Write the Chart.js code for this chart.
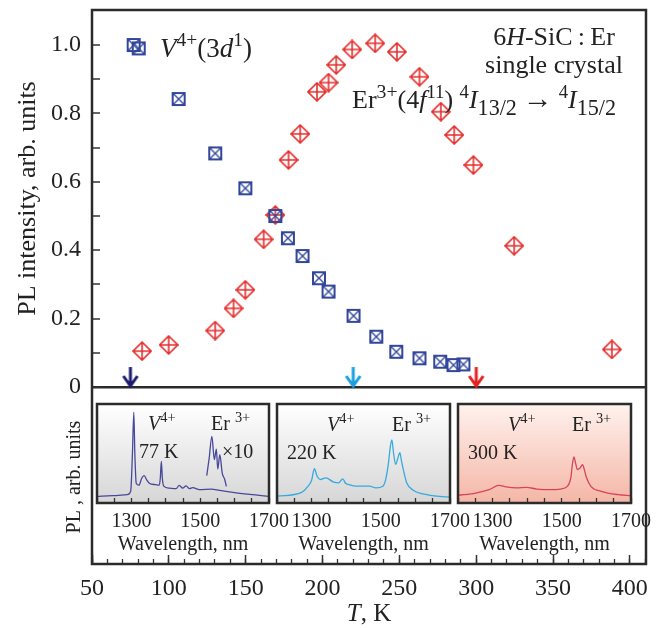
<!DOCTYPE html>
<html>
<head>
<meta charset="utf-8">
<script src="https://cdn.jsdelivr.net/npm/chart.js@4.4.1/dist/chart.umd.min.js"></script>
<style>
  html, body { margin: 0; padding: 0; background: #fff; }
  #wrap { position: relative; width: 657px; height: 628px; }
  #wrap canvas { position: absolute; }
</style>
</head>
<body>
<div id="wrap">
  <canvas id="main" width="657" height="628" style="left:0;top:0"></canvas>
  <canvas id="ins77" width="220" height="162" style="left:73px;top:402px"></canvas>
  <canvas id="ins220" width="221" height="162" style="left:253px;top:402px"></canvas>
  <canvas id="ins300" width="221" height="162" style="left:434px;top:402px"></canvas>
</div>
<script>
// V4+ points (temperature, K / normalized PL)
const tempV = [77.1, 80.4, 106.4, 130.2, 149.8, 169.3, 177.5, 187.0, 197.7, 203.9, 220.2, 235.0, 248.0, 263.1, 276.6, 285.2, 291.7];
const plV = [1.0, 0.99, 0.842, 0.683, 0.581, 0.500, 0.435, 0.383, 0.318, 0.279, 0.208, 0.147, 0.103, 0.084, 0.074, 0.064, 0.066];

// Er3+ points
const tempEr = [82.6, 99.9, 130.2, 142.1, 149.8, 161.7, 169.3, 177.9, 185.5, 196.4, 203.9, 208.9, 219.3, 234.3, 248.4, 263.1, 277.0, 285.7, 298.2, 324.7, 388.3];
const plEr = [0.105, 0.123, 0.165, 0.230, 0.284, 0.432, 0.503, 0.664, 0.740, 0.863, 0.890, 0.942, 0.987, 1.005, 0.980, 0.907, 0.805, 0.737, 0.649, 0.413, 0.110];

// temperatures of the three spectra (arrows)
const arrowTemps = [75, 220, 300];

// inset spectra, wavelength nm / relative height
const wl77 = [1200, 1244, 1288, 1298, 1303, 1307, 1310, 1314, 1322, 1330, 1337, 1345, 1352, 1371, 1381, 1384, 1387, 1390, 1394, 1410, 1430, 1439, 1449, 1459, 1469, 1478, 1498, 1532, 1556, 1595, 1654, 1700];
const pl77 = [0.067, 0.074, 0.084, 0.12, 0.50, 0.916, 0.50, 0.20, 0.18, 0.25, 0.276, 0.23, 0.20, 0.185, 0.18, 0.25, 0.42, 0.25, 0.17, 0.15, 0.145, 0.178, 0.15, 0.172, 0.145, 0.155, 0.135, 0.14, 0.128, 0.108, 0.084, 0.067];
const wl77Er = [1519, 1526, 1534, 1541, 1547, 1551, 1557, 1564, 1571, 1576];
const pl77Er = [0.276, 0.45, 0.673, 0.438, 0.545, 0.343, 0.488, 0.303, 0.24, 0.168];

const wl220 = [1200, 1271, 1290, 1300, 1308, 1316, 1325, 1341, 1364, 1378, 1390, 1398, 1408, 1428, 1467, 1486, 1506, 1514, 1522, 1528, 1532, 1537, 1543, 1549, 1555, 1560, 1565, 1575, 1594, 1633, 1692, 1700];
const pl220 = [0.068, 0.108, 0.17, 0.23, 0.346, 0.27, 0.237, 0.254, 0.21, 0.203, 0.244, 0.20, 0.186, 0.17, 0.17, 0.153, 0.17, 0.237, 0.40, 0.58, 0.637, 0.50, 0.39, 0.45, 0.508, 0.42, 0.339, 0.203, 0.129, 0.085, 0.061, 0.06];

const wl300 = [1200, 1251, 1290, 1318, 1339, 1369, 1398, 1428, 1467, 1496, 1516, 1526, 1531, 1535, 1540, 1545, 1552, 1560, 1565, 1570, 1584, 1614, 1663, 1700];
const pl300 = [0.077, 0.10, 0.135, 0.178, 0.162, 0.152, 0.158, 0.141, 0.135, 0.141, 0.168, 0.253, 0.40, 0.465, 0.40, 0.337, 0.35, 0.387, 0.34, 0.27, 0.168, 0.118, 0.084, 0.074];

const insetLabeled = [1300, 1500, 1700];

const SERIF = '"Liberation Serif", "DejaVu Serif", serif';
const INK = '#222';

// draws text made of runs: {t, i (italic), sup, sub, s (size factor)}
const rich = (ctx, parts, x, y, size, align) => {
  const runs = parts.map(p => {
    const f = p.s || ((p.sup || p.sub) ? 0.72 : 1);
    const font = (p.i ? 'italic ' : '') + (size * f) + 'px ' + SERIF;
    ctx.font = font;
    return { t: p.t, font, w: ctx.measureText(p.t).width, dy: p.sup ? -size * 0.4 : (p.sub ? size * 0.25 : 0) };
  });
  const total = runs.reduce((a, r) => a + r.w, 0);
  let cx = align === 'center' ? x - total / 2 : x;
  ctx.textAlign = 'left';
  ctx.textBaseline = 'alphabetic';
  runs.forEach(r => {
    ctx.font = r.font;
    ctx.fillText(r.t, cx, y + r.dy);
    cx += r.w;
  });
};

// marker images
const squareMark = (() => {
  const c = document.createElement('canvas');
  c.width = 16; c.height = 16;
  const g = c.getContext('2d');
  g.strokeStyle = '#33479a';
  g.lineWidth = 2;
  g.strokeRect(2, 2, 12, 12);
  g.lineWidth = 1.4;
  g.beginPath();
  g.moveTo(3, 3); g.lineTo(13, 13);
  g.moveTo(13, 3); g.lineTo(3, 13);
  g.stroke();
  return c;
})();

const diamondMark = (() => {
  const c = document.createElement('canvas');
  c.width = 20; c.height = 20;
  const g = c.getContext('2d');
  g.strokeStyle = '#e4302f';
  g.lineWidth = 1.6;
  g.beginPath();
  g.moveTo(10, 1); g.lineTo(19, 10); g.lineTo(10, 19); g.lineTo(1, 10); g.closePath();
  g.moveTo(10, 1); g.lineTo(10, 19);
  g.moveTo(1, 10); g.lineTo(19, 10);
  g.stroke();
  return c;
})();

const makeArrow = color => {
  const c = document.createElement('canvas');
  c.width = 18; c.height = 44;
  const g = c.getContext('2d');
  g.strokeStyle = color;
  g.lineWidth = 3;
  g.beginPath();
  g.moveTo(9, 2); g.lineTo(9, 21);
  g.moveTo(2, 11); g.lineTo(9, 21); g.lineTo(16, 11);
  g.stroke();
  return c;
};
const arrowMarks = ['#1e1b6d', '#1a9fe0', '#e52020'].map(makeArrow);

const noPad = s => { s.paddingTop = 0; s.paddingBottom = 0; s.paddingLeft = 0; s.paddingRight = 0; };

const mainNotes = {
  id: 'mainNotes',
  afterDraw(chart) {
    const { ctx, chartArea: a, scales } = chart;
    ctx.save();
    ctx.strokeStyle = '#2b2b2b';
    ctx.lineWidth = 2.5;
    ctx.strokeRect(a.left, a.top, a.right - a.left, a.bottom - a.top);
    ctx.fillStyle = INK;

    rich(ctx, [{ t: 'V', i: 1 }, { t: '4+', sup: 1 }, { t: '(3' }, { t: 'd', i: 1 }, { t: '1', sup: 1 }, { t: ')' }], a.left + 68, a.top + 47, 27);
    rich(ctx, [{ t: '6' }, { t: 'H', i: 1 }, { t: '-SiC\u2009:\u2009Er' }], a.left + 462, a.top + 35, 26, 'center');
    rich(ctx, [{ t: 'single crystal' }], a.left + 462, a.top + 63, 26, 'center');
    rich(ctx, [{ t: 'Er' }, { t: '3+', sup: 1, s: 0.76 }, { t: '(4' }, { t: 'f', i: 1 }, { t: '11', sup: 1 }, { t: ') ' },
      { t: '4', sup: 1 }, { t: 'I', i: 1 }, { t: '13/2', sub: 1, s: 0.85 }, { t: '\u2009\u2192\u2009', s: 1.15 },
      { t: '4', sup: 1 }, { t: 'I', i: 1 }, { t: '15/2', sub: 1, s: 0.85 }], a.left + 260, a.top + 98, 26);

    rich(ctx, [{ t: 'T', i: 1 }, { t: ', K' }], (a.left + a.right) / 2, 621, 25, 'center');

    // rotated axis titles
    const y0 = scales.y.getPixelForValue(0);
    ctx.save();
    ctx.translate(28, (a.top + y0) / 2);
    ctx.rotate(-Math.PI / 2);
    ctx.textAlign = 'center';
    ctx.textBaseline = 'middle';
    ctx.font = '26px ' + SERIF;
    ctx.fillText('PL intensity, arb. units', 0, 0);
    ctx.restore();

    ctx.save();
    ctx.translate(75, 477);
    ctx.rotate(-Math.PI / 2);
    ctx.textAlign = 'center';
    ctx.textBaseline = 'middle';
    ctx.font = '20px ' + SERIF;
    ctx.fillText('PL , arb. units', 0, 0);
    ctx.restore();
    ctx.restore();
  }
};

new Chart(document.getElementById('main'), {
  type: 'scatter',
  data: {
    datasets: [
      { label: 'V4+', data: tempV.map((t, i) => ({ x: t, y: plV[i] })), pointStyle: squareMark },
      { label: 'Er3+', data: tempEr.map((t, i) => ({ x: t, y: plEr[i] })), pointStyle: diamondMark },
      { label: 'spectra', data: arrowTemps.map(t => ({ x: t, y: 0 })), pointStyle: ctx => arrowMarks[ctx.dataIndex] }
    ]
  },
  options: {
    responsive: false,
    animation: false,
    events: [],
    layout: { padding: { left: 0, right: 11, top: 10, bottom: 0 } },
    plugins: { legend: { display: false }, tooltip: { enabled: false } },
    scales: {
      xMinor: {
        type: 'linear', position: 'bottom', weight: 0,
        min: 50, max: 410.5,
        afterFit: s => { s.height = 0; noPad(s); },
        ticks: { display: false, stepSize: 10, includeBounds: false, autoSkip: false },
        grid: { drawOnChartArea: false, tickLength: -5, tickColor: '#333', tickWidth: 1.3 },
        border: { display: false }
      },
      x: {
        type: 'linear', position: 'bottom', weight: 1,
        min: 50, max: 410.5,
        afterFit: s => { s.height = 64; noPad(s); },
        ticks: { stepSize: 50, includeBounds: false, autoSkip: false, maxRotation: 0, padding: 19, color: INK, font: { family: SERIF, size: 24 } },
        grid: { drawOnChartArea: false, tickLength: -9, tickColor: '#333', tickWidth: 1.5 },
        border: { display: false }
      },
      y: {
        type: 'linear', position: 'left',
        min: -0.51754, max: 1.10234,
        afterFit: s => { s.width = 92; noPad(s); },
        afterBuildTicks: s => { s.ticks = s.ticks.filter(t => t.value > -1e-6 && t.value < 1.0 + 1e-6); },
        ticks: {
          stepSize: 0.1, autoSkip: false, padding: 19, color: INK, font: { family: SERIF, size: 24 },
          callback: v => {
            const k = Math.round(v * 10);
            if (k % 2) return '';
            return k === 0 ? '0' : (k / 10).toFixed(1);
          }
        },
        grid: {
          tickLength: -8, tickColor: '#333', tickWidth: 1.5,
          color: c => (c.tick && Math.abs(c.tick.value) < 1e-6) ? '#2b2b2b' : 'rgba(0,0,0,0)',
          lineWidth: c => (c.tick && Math.abs(c.tick.value) < 1e-6) ? 2.5 : 0
        },
        border: { display: false }
      }
    }
  },
  plugins: [mainNotes]
});

// inset spectra
const makeInset = (id, series, bgTop, bgBottom, texts) => {
  const decor = {
    id: 'decor',
    beforeDraw(chart) {
      const { ctx, chartArea: a } = chart;
      const g = ctx.createLinearGradient(0, a.top, 0, a.bottom);
      g.addColorStop(0, bgTop);
      g.addColorStop(1, bgBottom);
      ctx.save();
      ctx.fillStyle = g;
      ctx.fillRect(a.left, a.top, a.right - a.left, a.bottom - a.top);
      ctx.restore();
    },
    afterDraw(chart) {
      const { ctx, chartArea: a } = chart;
      ctx.save();
      ctx.strokeStyle = '#2b2b2b';
      ctx.lineWidth = 2.5;
      ctx.strokeRect(a.left, a.top, a.right - a.left, a.bottom - a.top);
      ctx.fillStyle = INK;
      texts.forEach(tx => rich(ctx, tx.parts, a.left + tx.dx, a.top + tx.dy, 20));
      ctx.restore();
    }
  };
  new Chart(document.getElementById(id), {
    type: 'line',
    data: {
      datasets: series.map(s => ({
        data: s.wl.map((w, i) => ({ x: w, y: s.pl[i] })),
        borderColor: s.color, borderWidth: 1.3, pointRadius: 0,
        cubicInterpolationMode: 'monotone', fill: false
      }))
    },
    options: {
      responsive: false,
      animation: false,
      events: [],
      layout: { padding: { left: 24, right: 24, top: 2, bottom: 0 } },
      plugins: { legend: { display: false }, tooltip: { enabled: false } },
      scales: {
        x: {
          type: 'linear', min: 1200, max: 1700,
          afterFit: s => { s.height = 61; noPad(s); },
          ticks: {
            stepSize: 50, autoSkip: false, maxRotation: 0, padding: 12, color: INK,
            font: { family: SERIF, size: 20 },
            callback: v => insetLabeled.includes(v) ? String(v) : ''
          },
          grid: { drawOnChartArea: false, tickLength: -5, tickColor: '#333', tickWidth: 1.3 },
          border: { display: false },
          title: { display: true, text: 'Wavelength, nm', color: INK, font: { family: SERIF, size: 20 }, padding: { top: 0, bottom: 7 } }
        },
        y: { display: false, min: 0, max: 1 }
      }
    },
    plugins: [decor]
  });
};

const vLabel = [{ t: 'V', i: 1 }, { t: '4+', sup: 1 }];
const erLabel = [{ t: 'Er ' }, { t: '3+', sup: 1 }];

makeInset('ins77', [
  { wl: wl77, pl: pl77, color: '#48489a' },
  { wl: wl77Er, pl: pl77Er, color: '#48489a' }
], '#ffffff', '#d6d6d6', [
  { parts: vLabel, dx: 51, dy: 26 },
  { parts: erLabel, dx: 114, dy: 26 },
  { parts: [{ t: '77 K' }], dx: 42, dy: 54 },
  { parts: [{ t: '\u00d710' }], dx: 125, dy: 54 }
]);

makeInset('ins220', [
  { wl: wl220, pl: pl220, color: '#35aadf' }
], '#ffffff', '#d6d6d6', [
  { parts: vLabel, dx: 50, dy: 27 },
  { parts: erLabel, dx: 115, dy: 27 },
  { parts: [{ t: '220 K' }], dx: 10, dy: 55 }
]);

makeInset('ins300', [
  { wl: wl300, pl: pl300, color: '#d8445a' }
], '#fff2ee', '#f4b6a6', [
  { parts: vLabel, dx: 50, dy: 27 },
  { parts: erLabel, dx: 114, dy: 27 },
  { parts: [{ t: '300 K' }], dx: 10, dy: 55 }
]);
</script>
</body>
</html>
